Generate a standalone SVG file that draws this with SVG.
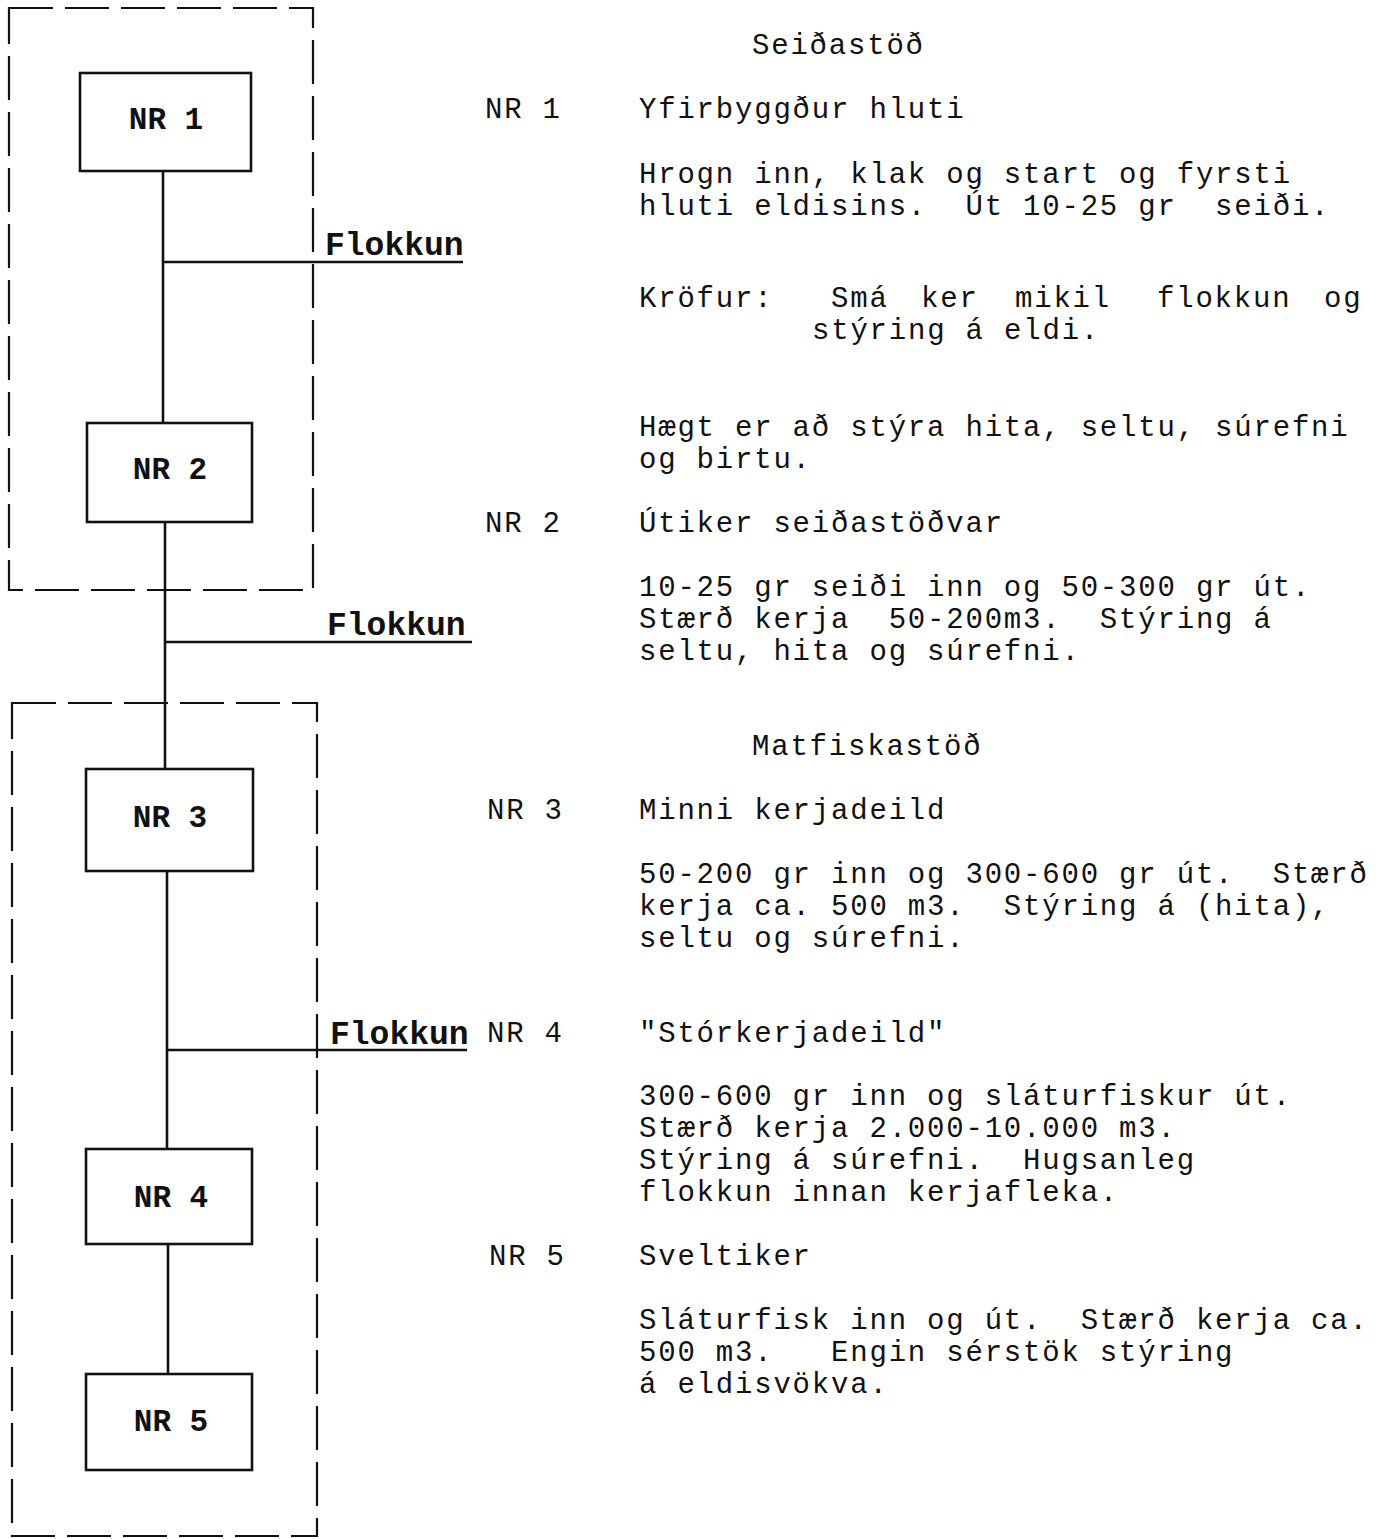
<svg xmlns="http://www.w3.org/2000/svg" width="1376" height="1539" viewBox="0 0 1376 1539">
<style>
text{white-space:pre;fill:#111}
.t{font-family:"Liberation Mono","Courier New",monospace;font-size:29px;letter-spacing:1.8px}
.b{font-family:"Liberation Mono","Courier New",monospace;font-size:31px;font-weight:bold;text-anchor:middle}
.f{font-family:"Liberation Mono","Courier New",monospace;font-size:33px;font-weight:bold}
.box{fill:none;stroke:#111;stroke-width:2.6}
.dash{fill:none;stroke:#111;stroke-width:2.2;stroke-dasharray:44 12}
.ln{fill:none;stroke:#111;stroke-width:2.6}
</style>
<rect width="1376" height="1539" fill="#fff"/>
<g id="group-seidastod"><rect class="dash" x="9" y="8" width="304" height="582"/></g>
<g id="group-matfiskastod"><rect class="dash" x="12" y="703" width="305" height="833"/></g>
<g id="connectors">
<path class="ln" d="M163 171 V423"/>
<path class="ln" d="M165 522 V769"/>
<path class="ln" d="M167 871 V1149"/>
<path class="ln" d="M168 1244 V1374"/>
<path class="ln" d="M163 262 H463"/>
<path class="ln" d="M165 642 H472"/>
<path class="ln" d="M167 1050 H467"/>
<text class="f" x="325" y="255">Flokkun</text>
<text class="f" x="327" y="635">Flokkun</text>
<text class="f" x="330" y="1044">Flokkun</text>
</g>
<g id="nr1"><rect class="box" x="80" y="73" width="171" height="98"/><text class="b" x="166" y="129">NR 1</text></g>
<g id="nr2"><rect class="box" x="87" y="423" width="165" height="99"/><text class="b" x="170" y="479">NR 2</text></g>
<g id="nr3"><rect class="box" x="86" y="769" width="167" height="102"/><text class="b" x="170" y="827">NR 3</text></g>
<g id="nr4"><rect class="box" x="86" y="1149" width="166" height="95"/><text class="b" x="171" y="1207">NR 4</text></g>
<g id="nr5"><rect class="box" x="86" y="1374" width="166" height="96"/><text class="b" x="171" y="1431">NR 5</text></g>
<g id="description">
<text class="t" x="752" y="54">Seiðastöð</text>
<text class="t" x="485" y="118">NR 1</text>
<text class="t" x="639" y="118">Yfirbyggður hluti</text>
<text class="t" x="639" y="183">Hrogn inn, klak og start og fyrsti</text>
<text class="t" x="639" y="215">hluti eldisins.  Út 10-25 gr  seiði.</text>
<text class="t" x="639" y="307">Kröfur:</text>
<text class="t" x="831" y="307">Smá</text>
<text class="t" x="921" y="307">ker</text>
<text class="t" x="1015" y="307">mikil</text>
<text class="t" x="1157" y="307">flokkun</text>
<text class="t" x="1324" y="307">og</text>
<text class="t" x="812" y="339">stýring á eldi.</text>
<text class="t" x="639" y="436">Hægt er að stýra hita, seltu, súrefni</text>
<text class="t" x="639" y="468">og birtu.</text>
<text class="t" x="485" y="532">NR 2</text>
<text class="t" x="639" y="532">Útiker seiðastöðvar</text>
<text class="t" x="639" y="596">10-25 gr seiði inn og 50-300 gr út.</text>
<text class="t" x="639" y="628">Stærð kerja  50-200m3.  Stýring á</text>
<text class="t" x="639" y="660">seltu, hita og súrefni.</text>
<text class="t" x="752" y="755">Matfiskastöð</text>
<text class="t" x="487" y="819">NR 3</text>
<text class="t" x="639" y="819">Minni kerjadeild</text>
<text class="t" x="639" y="883">50-200 gr inn og 300-600 gr út.  Stærð</text>
<text class="t" x="639" y="915">kerja ca. 500 m3.  Stýring á (hita),</text>
<text class="t" x="639" y="947">seltu og súrefni.</text>
<text class="t" x="487" y="1042">NR 4</text>
<text class="t" x="639" y="1042">"Stórkerjadeild"</text>
<text class="t" x="639" y="1105">300-600 gr inn og sláturfiskur út.</text>
<text class="t" x="639" y="1137">Stærð kerja 2.000-10.000 m3.</text>
<text class="t" x="639" y="1169">Stýring á súrefni.  Hugsanleg</text>
<text class="t" x="639" y="1201">flokkun innan kerjafleka.</text>
<text class="t" x="489" y="1265">NR 5</text>
<text class="t" x="639" y="1265">Sveltiker</text>
<text class="t" x="639" y="1329">Sláturfisk inn og út.  Stærð kerja ca.</text>
<text class="t" x="639" y="1361">500 m3.   Engin sérstök stýring</text>
<text class="t" x="639" y="1393">á eldisvökva.</text>
</g>
</svg>
